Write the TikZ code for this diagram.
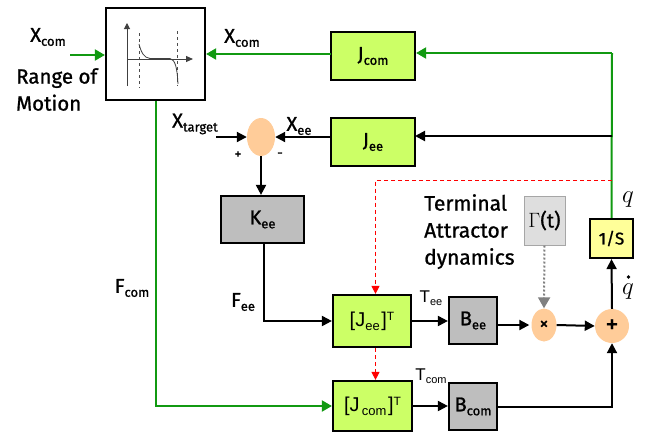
\documentclass[tikz,border=0pt]{standalone}
\usepackage{fontspec}
\setmainfont[FakeBold=1.0]{Fira Sans}
\newfontfamily\plainfont{Liberation Sans}
\usetikzlibrary{arrows.meta,calc,shapes.geometric}
\newcommand{\Sb}[2]{{\fontsize{20}{20}\selectfont #1}\raisebox{-4pt}{\fontsize{13}{13}\selectfont #2}}
\definecolor{limeg}{HTML}{CCFF66}
\definecolor{blockgray}{HTML}{BEBEBE}
\definecolor{peach}{HTML}{FFCC99}
\definecolor{wiregreen}{HTML}{119911}
\definecolor{paleyellow}{HTML}{FFFF99}
\tikzset{
  x=1pt,y=-1pt,
  blk/.style={draw=black,line width=2.2pt,inner sep=0pt},
  green box/.style={blk,fill=limeg},
  gray box/.style={blk,fill=blockgray},
  sumnode/.style={ellipse,fill=peach,inner sep=0pt},
  wire/.style={line width=2pt,draw=black,-{Triangle[length=10pt,width=10pt]}},
  gwire/.style={line width=2pt,draw=wiregreen,-{Triangle[length=10pt,width=11pt]}},
  rwire/.style={line width=1pt,draw=red,dash pattern=on 4pt off 3pt,-{Triangle[length=8pt,width=8pt]}},
  lbl/.style={inner sep=0pt,font=\fontsize{20}{22}\selectfont},
}
\begin{document}
\begin{tikzpicture}
\useasboundingbox (0,0) rectangle (654,437);
% blocks
\node[blk,fill=white,minimum width=99pt,minimum height=92pt] (rom) at (155.5,54) {};
\node[green box,minimum width=84pt,minimum height=48pt] (jcom) at (373,56) {\Sb{J}{com}};
\node[green box,minimum width=84pt,minimum height=48pt] (jee) at (373,142) {\Sb{J}{ee}};
\node[gray box,minimum width=83pt,minimum height=47pt] (kee) at (262.5,219.5) {\Sb{K}{ee}};
\node[green box,minimum width=78pt,minimum height=52pt] (jeet) at (372,321) {\plainfont{\fontsize{20}{20}\selectfont[J}\raisebox{-4pt}{\fontsize{13}{13}\selectfont ee}\,{\fontsize{20}{20}\selectfont]}\raisebox{6pt}{\fontsize{12}{12}\selectfont T}};
\node[green box,minimum width=79pt,minimum height=50pt] (jcomt) at (372.5,406) {\plainfont{\fontsize{20}{20}\selectfont[J}\raisebox{-4pt}{\fontsize{13}{13}\selectfont\,com}\,{\fontsize{20}{20}\selectfont]}\raisebox{6pt}{\fontsize{12}{12}\selectfont T}};
\node[gray box,minimum width=48pt,minimum height=47pt] (bee) at (473,320.5) {\Sb{B}{ee}};
\node[gray box,minimum width=48pt,minimum height=47pt] (bcom) at (473,406.5) {\Sb{B}{com}};
\node[blk,fill=paleyellow,minimum width=43pt,minimum height=39pt,font=\fontsize{17}{17}\selectfont] (ints) at (611.5,238.5) {1/S};
\node[draw=black!35,line width=1pt,fill=black!13,inner sep=0pt,minimum width=41pt,minimum height=49pt,font=\fontsize{20}{20}\selectfont] (gam) at (544.5,220.5) {$\Gamma$(t)};
\node[sumnode,minimum width=28pt,minimum height=38pt] (err) at (261,137) {};
\node[sumnode,minimum width=25pt,minimum height=33pt,font=\fontsize{18}{18}\selectfont] (mul) at (544,325) {×};
\node[sumnode,minimum width=34pt,minimum height=34pt,font=\fontsize{26}{26}\selectfont] (add) at (612,326) {+};
% free ends and corners
\coordinate (xin) at (70,55);
\coordinate (tin) at (216,137);
\coordinate (bus) at (612,53);
\coordinate (busee) at (612,136);
\coordinate (jeein) at (415,136);
\coordinate (jeeout) at (331,137);
\coordinate (romin) at (331,54);
\coordinate (redstart) at (612,180);
\coordinate (redbend) at (375.5,180);
% connectors
\draw[gwire] (xin) -- (rom.west |- xin);
\draw[line width=2pt,draw=wiregreen] (ints.north) -- (bus);
\draw[gwire] (bus) -- (jcom.east |- bus);
\draw[gwire] (romin) -- (rom.east |- romin);
\draw[wire] (busee) -- (jeein);
\draw[wire] (jeeout) -- (err.east);
\draw[wire] (tin) -- (err.west);
\draw[wire] (err.south) -- (err.south |- kee.north);
\draw[wire] ([xshift=1.5pt]kee.south) |- (jeet.west);
\draw[wire] (jeet.east) -- (bee.west |- jeet.east);
\draw[wire] (bee.east |- mul.west) -- ([xshift=-2pt]mul.west);
\draw[wire] (mul.east) -- (add.west);
\draw[wire] (add.north) -- (ints.south);
\draw[wire] (jcomt.east) -- (bcom.west |- jcomt.east);
\draw[wire] (bcom.east) -| (add.south);
\draw[gwire] (rom.south) |- (jcomt.west);
\draw[rwire] (redstart) -- (redbend) -- (redbend |- jeet.north);
\draw[rwire] (redbend |- jeet.south) -- (redbend |- jcomt.north);
\draw[line width=2pt,draw=black!50,dotted,-{Triangle[length=11pt,width=12pt]}] (gam.south) -- (mul.north);
% plot inside the range-of-motion block
\draw[line width=1pt,draw=black!75,-{Triangle[length=6pt,width=6pt]}] (127,86) -- (127,23);
\draw[line width=1pt,draw=black!75,-{Triangle[length=7pt,width=6pt]}] (127,59) -- (193,59);
\draw[line width=.8pt,draw=black!70,dashed] (139,33) -- (139,88);
\draw[line width=.8pt,draw=black!70,dashed] (177,31) -- (177,86);
\draw[line width=.8pt,draw=black!75] (139,44) .. controls (141,52) and (144,58) .. (150,58.5) -- (170,58.5) .. controls (175,60) and (177,66) .. (178,84);
% labels
\node[lbl] (l1) at (48,37) {\Sb{X}{com}};
\node[lbl] (l2) at (242,38) {\Sb{X}{com}};
\node[lbl,align=left,anchor=north west,font=\fontsize{20.5}{27}\selectfont] (l3) at (16,68) {Range of\\Motion};
\node[lbl] (l4) at (195,124) {\Sb{X}{target}};
\node[lbl] (l5) at (299,126) {\Sb{X}{ee}};
\node[lbl,font=\fontsize{14}{14}\selectfont] (l6) at (238,155) {+};
\node[lbl,font=\fontsize{14}{14}\selectfont] (l7) at (280,155) {-};
\node[lbl] (l8) at (132,288) {\Sb{F}{com}};
\node[lbl] (l9) at (243,302) {\Sb{F}{ee}};
\node[lbl,align=left,anchor=north west,font=\fontsize{21}{27}\selectfont] (l10) at (424,194) {Terminal\\Attractor\\dynamics};
\node[lbl,font=\plainfont\fontsize{17}{17}\selectfont] (l11) at (431,298) {T\raisebox{-3pt}{\fontsize{11}{11}\selectfont ee}};
\node[lbl,font=\plainfont\fontsize{17}{17}\selectfont] (l12) at (431,376) {T\raisebox{-3pt}{\fontsize{11}{11}\selectfont com}};
\node[lbl,font=\fontsize{24}{24}\selectfont] (l13) at (628,200) {$q$};
\node[lbl,font=\fontsize{24}{24}\selectfont] (l14) at (628,292) {$q$};
\fill (628.5,277) circle (1.8pt);
\end{tikzpicture}
\end{document}
